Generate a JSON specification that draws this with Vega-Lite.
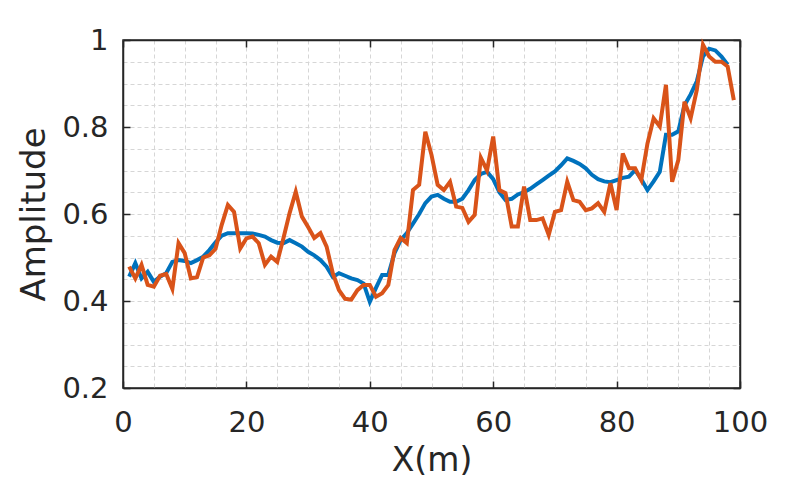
{
  "$schema": "https://vega.github.io/schema/vega-lite/v6.json",
  "width": 617,
  "height": 348,
  "autosize": {"type": "none"},
  "padding": {"left": 123, "top": 40, "right": 68, "bottom": 92},
  "background": "white",
  "config": {
    "view": {"stroke": "#262626", "strokeWidth": 1.5, "fill": "white"},
    "font": "DejaVu Sans",
    "axis": {"labelColor": "#262626", "titleColor": "#262626", "tickColor": "#262626", "domainColor": "#262626", "labelFont": "DejaVu Sans", "titleFont": "DejaVu Sans", "titleFontWeight": "normal"}
  },
  "datasets": {
    "curves": [
      {"x":1,"s":"Series 1","y":0.456},{"x":2,"s":"Series 1","y":0.487},{"x":3,"s":"Series 1","y":0.452},{"x":4,"s":"Series 1","y":0.467},{"x":5,"s":"Series 1","y":0.444},
      {"x":6,"s":"Series 1","y":0.456},{"x":7,"s":"Series 1","y":0.464},{"x":8,"s":"Series 1","y":0.49},{"x":9,"s":"Series 1","y":0.494},{"x":10,"s":"Series 1","y":0.492},
      {"x":11,"s":"Series 1","y":0.487},{"x":12,"s":"Series 1","y":0.494},{"x":13,"s":"Series 1","y":0.502},{"x":14,"s":"Series 1","y":0.517},{"x":15,"s":"Series 1","y":0.535},
      {"x":16,"s":"Series 1","y":0.55},{"x":17,"s":"Series 1","y":0.556},{"x":18,"s":"Series 1","y":0.556},{"x":19,"s":"Series 1","y":0.556},{"x":20,"s":"Series 1","y":0.556},
      {"x":21,"s":"Series 1","y":0.555},{"x":22,"s":"Series 1","y":0.552},{"x":23,"s":"Series 1","y":0.548},{"x":24,"s":"Series 1","y":0.54},{"x":25,"s":"Series 1","y":0.534},
      {"x":26,"s":"Series 1","y":0.533},{"x":27,"s":"Series 1","y":0.54},{"x":28,"s":"Series 1","y":0.533},{"x":29,"s":"Series 1","y":0.525},{"x":30,"s":"Series 1","y":0.513},
      {"x":31,"s":"Series 1","y":0.505},{"x":32,"s":"Series 1","y":0.494},{"x":33,"s":"Series 1","y":0.479},{"x":34,"s":"Series 1","y":0.455},{"x":35,"s":"Series 1","y":0.464},
      {"x":36,"s":"Series 1","y":0.458},{"x":37,"s":"Series 1","y":0.452},{"x":38,"s":"Series 1","y":0.448},{"x":39,"s":"Series 1","y":0.44},{"x":40,"s":"Series 1","y":0.398},
      {"x":41,"s":"Series 1","y":0.43},{"x":42,"s":"Series 1","y":0.46},{"x":43,"s":"Series 1","y":0.46},{"x":44,"s":"Series 1","y":0.51},{"x":45,"s":"Series 1","y":0.54},
      {"x":46,"s":"Series 1","y":0.556},{"x":47,"s":"Series 1","y":0.578},{"x":48,"s":"Series 1","y":0.6},{"x":49,"s":"Series 1","y":0.625},{"x":50,"s":"Series 1","y":0.64},
      {"x":51,"s":"Series 1","y":0.644},{"x":52,"s":"Series 1","y":0.635},{"x":53,"s":"Series 1","y":0.628},{"x":54,"s":"Series 1","y":0.628},{"x":55,"s":"Series 1","y":0.635},
      {"x":56,"s":"Series 1","y":0.655},{"x":57,"s":"Series 1","y":0.678},{"x":58,"s":"Series 1","y":0.692},{"x":59,"s":"Series 1","y":0.697},{"x":60,"s":"Series 1","y":0.68},
      {"x":61,"s":"Series 1","y":0.65},{"x":62,"s":"Series 1","y":0.632},{"x":63,"s":"Series 1","y":0.635},{"x":64,"s":"Series 1","y":0.645},{"x":65,"s":"Series 1","y":0.65},
      {"x":66,"s":"Series 1","y":0.658},{"x":67,"s":"Series 1","y":0.668},{"x":68,"s":"Series 1","y":0.678},{"x":69,"s":"Series 1","y":0.688},{"x":70,"s":"Series 1","y":0.698},
      {"x":71,"s":"Series 1","y":0.712},{"x":72,"s":"Series 1","y":0.728},{"x":73,"s":"Series 1","y":0.722},{"x":74,"s":"Series 1","y":0.715},{"x":75,"s":"Series 1","y":0.705},
      {"x":76,"s":"Series 1","y":0.69},{"x":77,"s":"Series 1","y":0.68},{"x":78,"s":"Series 1","y":0.675},{"x":79,"s":"Series 1","y":0.673},{"x":80,"s":"Series 1","y":0.678},
      {"x":81,"s":"Series 1","y":0.683},{"x":82,"s":"Series 1","y":0.686},{"x":83,"s":"Series 1","y":0.701},{"x":84,"s":"Series 1","y":0.68},{"x":85,"s":"Series 1","y":0.655},
      {"x":86,"s":"Series 1","y":0.675},{"x":87,"s":"Series 1","y":0.697},{"x":88,"s":"Series 1","y":0.782},{"x":89,"s":"Series 1","y":0.782},{"x":90,"s":"Series 1","y":0.79},
      {"x":91,"s":"Series 1","y":0.85},{"x":92,"s":"Series 1","y":0.875},{"x":93,"s":"Series 1","y":0.905},{"x":94,"s":"Series 1","y":0.962},{"x":95,"s":"Series 1","y":0.98},
      {"x":96,"s":"Series 1","y":0.976},{"x":97,"s":"Series 1","y":0.962},{"x":98,"s":"Series 1","y":0.943},
      {"x":1,"s":"Series 2","y":0.479},{"x":2,"s":"Series 2","y":0.452},{"x":3,"s":"Series 2","y":0.483},{"x":4,"s":"Series 2","y":0.437},{"x":5,"s":"Series 2","y":0.433},
      {"x":6,"s":"Series 2","y":0.458},{"x":7,"s":"Series 2","y":0.462},{"x":8,"s":"Series 2","y":0.428},{"x":9,"s":"Series 2","y":0.533},{"x":10,"s":"Series 2","y":0.51},
      {"x":11,"s":"Series 2","y":0.452},{"x":12,"s":"Series 2","y":0.455},{"x":13,"s":"Series 2","y":0.5},{"x":14,"s":"Series 2","y":0.505},{"x":15,"s":"Series 2","y":0.52},
      {"x":16,"s":"Series 2","y":0.575},{"x":17,"s":"Series 2","y":0.621},{"x":18,"s":"Series 2","y":0.605},{"x":19,"s":"Series 2","y":0.521},{"x":20,"s":"Series 2","y":0.544},
      {"x":21,"s":"Series 2","y":0.548},{"x":22,"s":"Series 2","y":0.533},{"x":23,"s":"Series 2","y":0.483},{"x":24,"s":"Series 2","y":0.502},{"x":25,"s":"Series 2","y":0.49},
      {"x":26,"s":"Series 2","y":0.544},{"x":27,"s":"Series 2","y":0.602},{"x":28,"s":"Series 2","y":0.651},{"x":29,"s":"Series 2","y":0.594},{"x":30,"s":"Series 2","y":0.57},
      {"x":31,"s":"Series 2","y":0.545},{"x":32,"s":"Series 2","y":0.556},{"x":33,"s":"Series 2","y":0.525},{"x":34,"s":"Series 2","y":0.464},{"x":35,"s":"Series 2","y":0.425},
      {"x":36,"s":"Series 2","y":0.405},{"x":37,"s":"Series 2","y":0.403},{"x":38,"s":"Series 2","y":0.425},{"x":39,"s":"Series 2","y":0.437},{"x":40,"s":"Series 2","y":0.437},
      {"x":41,"s":"Series 2","y":0.41},{"x":42,"s":"Series 2","y":0.418},{"x":43,"s":"Series 2","y":0.437},{"x":44,"s":"Series 2","y":0.517},{"x":45,"s":"Series 2","y":0.545},
      {"x":46,"s":"Series 2","y":0.533},{"x":47,"s":"Series 2","y":0.655},{"x":48,"s":"Series 2","y":0.667},{"x":49,"s":"Series 2","y":0.789},{"x":50,"s":"Series 2","y":0.736},
      {"x":51,"s":"Series 2","y":0.667},{"x":52,"s":"Series 2","y":0.655},{"x":53,"s":"Series 2","y":0.674},{"x":54,"s":"Series 2","y":0.617},{"x":55,"s":"Series 2","y":0.614},
      {"x":56,"s":"Series 2","y":0.582},{"x":57,"s":"Series 2","y":0.598},{"x":58,"s":"Series 2","y":0.729},{"x":59,"s":"Series 2","y":0.7},{"x":60,"s":"Series 2","y":0.778},
      {"x":61,"s":"Series 2","y":0.655},{"x":62,"s":"Series 2","y":0.648},{"x":63,"s":"Series 2","y":0.571},{"x":64,"s":"Series 2","y":0.571},{"x":65,"s":"Series 2","y":0.663},
      {"x":66,"s":"Series 2","y":0.586},{"x":67,"s":"Series 2","y":0.586},{"x":68,"s":"Series 2","y":0.59},{"x":69,"s":"Series 2","y":0.552},{"x":70,"s":"Series 2","y":0.605},
      {"x":71,"s":"Series 2","y":0.609},{"x":72,"s":"Series 2","y":0.674},{"x":73,"s":"Series 2","y":0.632},{"x":74,"s":"Series 2","y":0.628},{"x":75,"s":"Series 2","y":0.609},
      {"x":76,"s":"Series 2","y":0.613},{"x":77,"s":"Series 2","y":0.625},{"x":78,"s":"Series 2","y":0.605},{"x":79,"s":"Series 2","y":0.671},{"x":80,"s":"Series 2","y":0.609},
      {"x":81,"s":"Series 2","y":0.739},{"x":82,"s":"Series 2","y":0.705},{"x":83,"s":"Series 2","y":0.705},{"x":84,"s":"Series 2","y":0.678},{"x":85,"s":"Series 2","y":0.762},
      {"x":86,"s":"Series 2","y":0.82},{"x":87,"s":"Series 2","y":0.801},{"x":88,"s":"Series 2","y":0.897},{"x":89,"s":"Series 2","y":0.674},{"x":90,"s":"Series 2","y":0.724},
      {"x":91,"s":"Series 2","y":0.858},{"x":92,"s":"Series 2","y":0.82},{"x":93,"s":"Series 2","y":0.885},{"x":94,"s":"Series 2","y":0.989},{"x":95,"s":"Series 2","y":0.962},
      {"x":96,"s":"Series 2","y":0.95},{"x":97,"s":"Series 2","y":0.95},{"x":98,"s":"Series 2","y":0.939},{"x":99,"s":"Series 2","y":0.862}
    ]
  },
  "data": {"name": "curves"},
  "resolve": {"axis": {"x": "independent", "y": "independent"}},
  "layer": [
    {
      "mark": {"type": "point", "opacity": 0},
      "encoding": {
        "x": {"field": "x", "type": "quantitative", "scale": {"domain": [0, 100], "nice": false, "zero": false},
          "axis": {"orient": "bottom", "values": [0,5,10,15,20,25,30,35,40,45,50,55,60,65,70,75,80,85,90,95,100], "grid": true, "gridDash": [4, 3], "gridColor": "#d6d6d6", "gridWidth": 1, "ticks": false, "labels": false, "domain": false, "title": null}},
        "y": {"field": "y", "type": "quantitative", "scale": {"domain": [0.2, 1], "nice": false, "zero": false},
          "axis": {"orient": "left", "values": [0.2,0.25,0.3,0.35,0.4,0.45,0.5,0.55,0.6,0.65,0.7,0.75,0.8,0.85,0.9,0.95,1], "grid": true, "gridDash": [4, 3], "gridColor": "#d6d6d6", "gridWidth": 1, "ticks": false, "labels": false, "domain": false, "title": null}}
      }
    },
    {
      "mark": {"type": "point", "opacity": 0},
      "encoding": {
        "x": {"field": "x", "type": "quantitative", "scale": {"domain": [0, 100], "nice": false, "zero": false},
          "axis": {"orient": "bottom", "values": [0,20,40,60,80,100], "grid": false, "ticks": false, "domain": false, "labelFlush": false, "labelFontSize": 29, "labelPadding": 20, "title": "X(m)", "titleFontSize": 33, "titlePadding": 7}},
        "y": {"field": "y", "type": "quantitative", "scale": {"domain": [0.2, 1], "nice": false, "zero": false},
          "axis": {"orient": "left", "values": [0.2,0.4,0.6,0.8,1], "format": "~g", "grid": false, "ticks": false, "domain": false, "labelFlush": false, "labelFontSize": 29, "labelPadding": 15, "title": "Amplitude", "titleFontSize": 34, "titlePadding": 10}}
      }
    },
    {
      "mark": {"type": "line", "strokeWidth": 4},
      "encoding": {
        "x": {"field": "x", "type": "quantitative", "scale": {"domain": [0, 100], "nice": false, "zero": false},
          "axis": {"orient": "bottom", "values": [0,20,40,60,80,100], "grid": false, "ticks": true, "tickSize": -7, "tickWidth": 1.5, "labels": false, "domain": true, "domainWidth": 1.5, "title": null}},
        "y": {"field": "y", "type": "quantitative", "scale": {"domain": [0.2, 1], "nice": false, "zero": false},
          "axis": {"orient": "left", "values": [0.2,0.4,0.6,0.8,1], "grid": false, "ticks": true, "tickSize": -7, "tickWidth": 1.5, "labels": false, "domain": true, "domainWidth": 1.5, "title": null}},
        "color": {"field": "s", "type": "nominal", "scale": {"domain": ["Series 1", "Series 2"], "range": ["#0072BD", "#D95319"]}, "legend": null},
        "order": {"field": "x", "type": "quantitative"}
      }
    },
    {
      "mark": {"type": "point", "opacity": 0},
      "encoding": {
        "x": {"field": "x", "type": "quantitative", "scale": {"domain": [0, 100], "nice": false, "zero": false},
          "axis": {"orient": "top", "values": [0,20,40,60,80,100], "grid": false, "ticks": true, "tickSize": -7, "tickWidth": 1.5, "labels": false, "domain": true, "domainWidth": 1.5, "title": null}},
        "y": {"field": "y", "type": "quantitative", "scale": {"domain": [0.2, 1], "nice": false, "zero": false},
          "axis": {"orient": "right", "values": [0.2,0.4,0.6,0.8,1], "grid": false, "ticks": true, "tickSize": -7, "tickWidth": 1.5, "labels": false, "domain": true, "domainWidth": 1.5, "title": null}}
      }
    }
  ]
}
